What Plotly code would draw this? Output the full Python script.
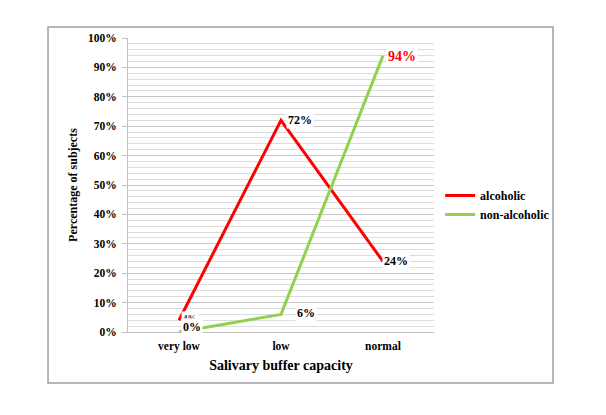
import plotly.graph_objects as go

categories = ["very low", "low", "normal"]
alcoholic = [4, 72, 24]
non_alcoholic = [0, 6, 94]
y_ticks = [0, 10, 20, 30, 40, 50, 60, 70, 80, 90, 100]
y_tick_labels = ["%d%%" % v for v in y_ticks]

RED = "#FF0000"
GREEN = "#92D050"
FONT = "Liberation Serif"

fig = go.Figure()
fig.add_trace(go.Scatter(x=categories, y=alcoholic, mode="lines", name="alcoholic",
                         line=dict(color=RED, width=3)))
fig.add_trace(go.Scatter(x=categories, y=non_alcoholic, mode="lines", name="non-alcoholic",
                         line=dict(color=GREEN, width=3)))

# data labels
lab_specs = [
    (categories[0], alcoholic[0], "4%", 11, 2, 9, "#333"),
    (categories[0], non_alcoholic[0], "0%", 13, 5, 12, "black"),
    (categories[1], alcoholic[1], "72%", 19, 0, 12, "black"),
    (categories[2], alcoholic[2], "24%", 13, 0, 12, "black"),
    (categories[1], non_alcoholic[1], "6%", 25, 1, 12, "black"),
    (categories[2], non_alcoholic[2], "94%", 19, -1, 14, RED),
]
for cx, cy, txt, xs, ys, fs, col in lab_specs:
    fig.add_annotation(x=cx, y=cy, text="<b>%s</b>" % txt, showarrow=False,
                       xshift=xs, yshift=ys, bgcolor="white", borderpad=1,
                       font=dict(family=FONT, size=fs, color=col))

# outer border
fig.add_shape(type="rect", xref="paper", yref="paper",
              x0=-0.2614, x1=1.389, y0=-0.1735, y1=1.0374,
              line=dict(color="#A0A0A0", width=1.5), fillcolor="rgba(0,0,0,0)")

fig.update_layout(
    width=606, height=415,
    margin=dict(l=128, r=172, t=38, b=83, autoexpand=False),
    paper_bgcolor="white", plot_bgcolor="white",
    font=dict(family=FONT, color="black"),
    showlegend=True,
    legend=dict(x=1.02, y=0.432, xanchor="left", yanchor="middle",
                font=dict(family=FONT, size=12, color="black", weight="bold"),
                bgcolor="rgba(0,0,0,0)", itemwidth=30, tracegroupgap=0),
    xaxis=dict(
        type="category", range=[-0.5, 2.5], showgrid=False,
        showline=True, linecolor="#BFBFBF", linewidth=1,
        ticks="", ticklabelstandoff=3, tickfont=dict(family=FONT, size=11.5, weight="bold"),
        title=dict(text="<b>Salivary buffer capacity</b>", font=dict(family=FONT, size=14), standoff=8),
    ),
    yaxis=dict(
        range=[0, 100], tickmode="array", tickvals=y_ticks, ticktext=y_tick_labels,
        showgrid=True, gridcolor="#C8C8C8", gridwidth=1,
        minor=dict(dtick=2, showgrid=True, gridcolor="#DCDCDC", gridwidth=1, ticks=""),
        showline=True, linecolor="#BFBFBF", linewidth=1,
        ticks="outside", ticklen=5, tickcolor="#BFBFBF", ticklabelstandoff=3,
        tickfont=dict(family=FONT, size=11.5, weight="bold"),
        zeroline=False,
        title=dict(text="<b>Percentage of subjects</b>", font=dict(family=FONT, size=12), standoff=7),
    ),
)

fig.write_html("out.html", config={"displayModeBar": False},
               post_script="document.body.style.margin='0px';")
